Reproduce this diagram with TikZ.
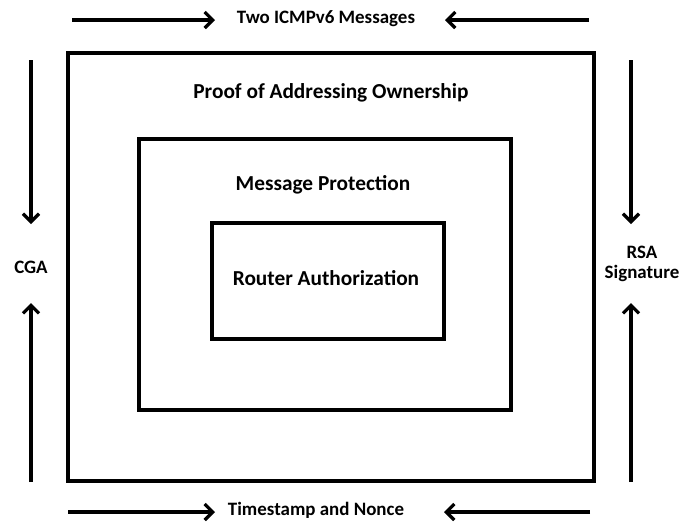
\documentclass[tikz,border=0pt]{standalone}
\usepackage{fontspec}
\setmainfont{Carlito}
\usetikzlibrary{arrows.meta}
\tikzset{
  frame/.style={draw, line width=2.6pt, inner sep=0pt},
  flow/.style={line width=2.6pt, -{Straight Barb[length=6pt,width=12pt,line width=2.4pt]}},
  biglabel/.style={font=\bfseries\fontsize{16}{18}\selectfont, inner sep=0.75pt},
  smalllabel/.style={font=\bfseries\fontsize{14.2}{15.5}\selectfont, inner sep=0.75pt, align=center}
}
\begin{document}
\begin{tikzpicture}[x=0.75pt,y=0.75pt,yscale=-1,xscale=1]
\useasboundingbox (0,0) rectangle (693,522);
% Boxes
\node [frame, minimum width=526*0.75pt, minimum height=428*0.75pt] (outer) at (331,267) {};
\node [frame, minimum width=372*0.75pt, minimum height=271*0.75pt] (middle) at (325,274.5) {};
\node [frame, minimum width=232*0.75pt, minimum height=116*0.75pt] (inner) at (328,281) {};
% Text Node
\node [biglabel] (proof) at (331,93) {Proof of Addressing Ownership};
\node [biglabel] (protect) at (323,185) {Message Protection};
\node [biglabel] (router) at (326,278) {Router Authorization};
% Text Node
\node [smalllabel] (icmp) at (326,19) {Two ICMPv6 Messages};
\node [smalllabel] (nonce) at (316,510) {Timestamp and Nonce};
\node [smalllabel] (cga) at (31,267) {CGA};
\node [smalllabel] (rsa) at (642,264) {RSA\\Signature};
% Arrow ends
\coordinate (tl) at (72,20);   \coordinate (tlh) at (215,20);
\coordinate (tr) at (589,20);  \coordinate (trh) at (445,20);
\coordinate (bl) at (68,512);  \coordinate (blh) at (215,512);
\coordinate (br) at (590,512); \coordinate (brh) at (444,512);
\coordinate (lt) at (31,60);   \coordinate (lth) at (31,224);
\coordinate (lb) at (31,482);  \coordinate (lbh) at (31,303);
\coordinate (rt) at (631,60);  \coordinate (rth) at (631,224);
\coordinate (rb) at (631,482); \coordinate (rbh) at (631,303);
% Arrows
\draw [flow] (tl) -- (tlh);
\draw [flow] (tr) -- (trh);
\draw [flow] (bl) -- (blh);
\draw [flow] (br) -- (brh);
\draw [flow] (lt) -- (lth);
\draw [flow] (lb) -- (lbh);
\draw [flow] (rt) -- (rth);
\draw [flow] (rb) -- (rbh);
\end{tikzpicture}
\end{document}
